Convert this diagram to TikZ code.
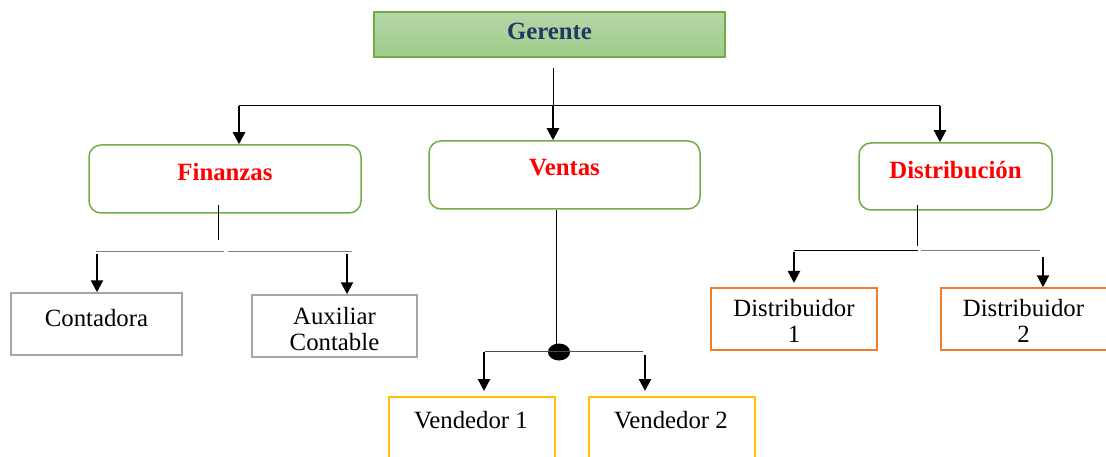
\documentclass[tikz,border=0pt]{standalone}
\usepackage{fontspec}
\setmainfont{Liberation Serif}
\usetikzlibrary{arrows.meta}
\definecolor{gborder}{HTML}{70AD47}
\definecolor{gtop}{HTML}{B7D6A9}
\definecolor{gbot}{HTML}{9FCB8A}
\definecolor{navy}{HTML}{1F3864}
\definecolor{grayb}{HTML}{A6A6A6}
\definecolor{orangeb}{HTML}{ED7D31}
\definecolor{yellowb}{HTML}{FFC000}
\definecolor{linegray}{HTML}{7F7F7F}
\tikzset{
  boss/.style={draw=gborder, line width=1.5pt, top color=gtop, bottom color=gbot, inner sep=0pt},
  dept/.style={draw=gborder, line width=1.5pt, rounded corners=12pt, fill=white, inner sep=0pt},
  depttext/.style={text=red, font=\fontsize{24.8}{26}\selectfont\bfseries, inner sep=0pt},
  leafgray/.style={draw=grayb, line width=1.5pt, inner sep=0pt},
  leaforange/.style={draw=orangeb, line width=1.5pt, inner sep=0pt},
  leafyellow/.style={draw=yellowb, line width=1.5pt, inner sep=0pt},
  leaftext/.style={inner sep=0pt, font=\fontsize{24.8}{26}\selectfont},
  conn/.style={line width=1pt, black},
  conngray/.style={line width=1pt, linegray},
  arr/.style={line width=2.2pt, -{Triangle[width=12pt,length=12pt]}},
}
\begin{document}
\begin{tikzpicture}[x=1pt,y=-1pt]
\useasboundingbox (0,0) rectangle (1106,457);
% Gerente
\node[boss, minimum width=351pt, minimum height=45pt] (ger) at (549.5,34.5) {};
\node[text=navy, font=\fontsize{24.8}{26}\selectfont\bfseries, inner sep=0pt] (gerT) at (549.5,31) {Gerente};
% departments
\node[dept, minimum width=272pt, minimum height=68pt] (fin) at (225,179) {};
\node[depttext] (finT) at (225,172) {Finanzas};
\node[dept, minimum width=271pt, minimum height=68pt] (ven) at (564.5,175) {};
\node[depttext] (venT) at (564.5,168) {Ventas};
\node[dept, minimum width=193pt, minimum height=67pt] (dis) at (955.5,176.5) {};
\node[depttext] (disT) at (955.5,170) {Distribución};
% leaves
\node[leafgray, minimum width=171pt, minimum height=62pt] (con) at (96.5,324) {};
\node[leaftext] (conT) at (96.5,318) {Contadora};
\node[leafgray, minimum width=165pt, minimum height=62pt] (aux) at (334.5,326) {};
\node[leaftext, align=center] (auxT) at (334.5,329) {Auxiliar\\Contable};
\node[leaforange, minimum width=166pt, minimum height=62pt] (d1) at (794,319) {};
\node[leaftext, align=center] (d1T) at (794,321) {Distribuidor\\1};
\begin{scope}
\clip (0,0) rectangle (1106,457);
\node[leaforange, minimum width=170pt, minimum height=62pt] (d2) at (1026,319) {};
\node[leafyellow, minimum width=166pt, minimum height=80pt] (v1) at (472,437) {};
\node[leafyellow, minimum width=166pt, minimum height=80pt] (v2) at (672,437) {};
\end{scope}
\node[leaftext, align=center] (d2T) at (1023.5,321) {Distribuidor\\2};
\node[leaftext] (v1T) at (471,420) {Vendedor 1};
\node[leaftext] (v2T) at (671,420) {Vendedor 2};
% top tree
\coordinate (gb) at (553,68);
\coordinate (tl) at (239,106);
\coordinate (tm) at (553,106);
\coordinate (tr) at (940,106);
\draw[conn] (gb) -- (tm);
\draw[conn] (tl) -- (tr);
\draw[arr] (tl) -- (tl |- fin.north);
\draw[arr] (tm) -- (tm |- ven.north);
\draw[arr] (tr) -- (tr |- dis.north);
% Finanzas subtree
\coordinate (fa) at (218,205);
\coordinate (fb) at (218,240);
\coordinate (fl) at (96,252);
\coordinate (fg1) at (224,252);
\coordinate (fg2) at (228,252);
\coordinate (fr) at (352,252);
\draw[conn] (fa) -- (fb);
\draw[conngray] (fl) -- (fg1);
\draw[conngray] (fg2) -- (fr);
\coordinate (fal) at (97,254);
\coordinate (far) at (347,254);
\draw[arr] (fal) -- (fal |- con.north);
\draw[arr] (far) -- (far |- aux.north);
% Ventas subtree
\coordinate (va) at (556,210);
\coordinate (vb) at (556,345);
\node[fill=black, circle, minimum size=17pt, inner sep=0pt, xscale=1.3] (dot) at (559,352) {};
\coordinate (vl) at (485,351);
\coordinate (vr) at (643,351);
\draw[conn] (va) -- (vb);
\draw[conn, linegray!60!black] (vl) -- (vr);
\coordinate (val) at (484,352);
\coordinate (vtl) at (484,391);
\coordinate (var) at (645,355);
\coordinate (vtr) at (645,391);
\draw[arr] (val) -- (vtl);
\draw[arr] (var) -- (vtr);
% Distribucion subtree
\coordinate (da) at (917,205);
\coordinate (db) at (917,246);
\coordinate (dl) at (794,251);
\coordinate (dm1) at (918,251);
\coordinate (dm2) at (921,251);
\coordinate (dr) at (1040,251);
\draw[conn] (da) -- (db);
\draw[conn] (dl) -- (dm1);
\draw[conngray] (dm2) -- (dr);
\coordinate (dal) at (794,252);
\coordinate (dtl) at (794,283);
\coordinate (dar) at (1043,257);
\draw[arr] (dal) -- (dtl);
\draw[arr] (dar) -- (dar |- d2.north);
\end{tikzpicture}
\end{document}
